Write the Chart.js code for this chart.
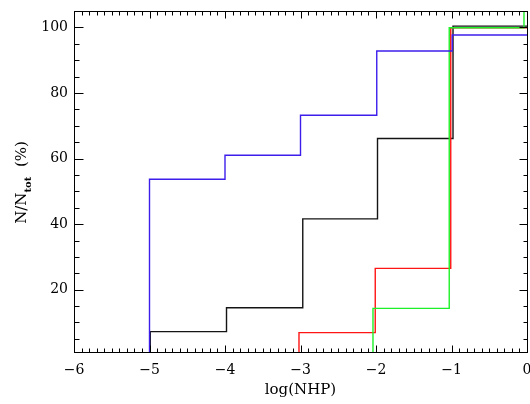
<!DOCTYPE html>
<html><head><meta charset="utf-8">
<script src="https://cdn.jsdelivr.net/npm/chart.js@4/dist/chart.umd.min.js"></script>
<style>html,body{margin:0;padding:0;background:#fff}canvas{display:block}</style>
</head><body>
<canvas id="c" width="530" height="404"></canvas>
<script>
// axis ranges and ticks
const xMin = -6, xMax = 0, yMin = 1, yMax = 105;
const xTickValues = [-6, -5, -4, -3, -2, -1, 0];
const xTickLabels = ['\u22126', '\u22125', '\u22124', '\u22123', '\u22122', '\u22121', '0'];
const yTickValues = [20, 40, 60, 80, 100];
const yTickLabels = ['20', '40', '60', '80', '100'];

// cumulative step series: edge positions (log NHP) and level (%) after each edge
const blueEdges  = [-5.00, -4.00, -3.00, -1.99, -0.99];
const blueLevels = [53.7, 61.0, 73.2, 92.8, 97.7];
const blackEdges  = [-4.99, -3.98, -2.97, -1.98, -0.98];
const blackLevels = [7.2, 14.5, 41.6, 66.1, 100.4];
const redEdges  = [-3.02, -2.01, -1.01];
const redLevels = [6.9, 26.5, 99.9];
const greenEdges  = [-2.04, -1.03, -0.04];
const greenLevels = [14.3, 99.9, 105];

const FONT = 'DejaVu Serif';

function stepPoints(edges, levels, extend) {
  const pts = [{x: edges[0], y: yMin}];
  edges.forEach((e, i) => pts.push({x: e, y: levels[i]}));
  if (extend) pts.push({x: xMax, y: levels[levels.length - 1]});
  return pts;
}

function ds(data, color) {
  return {data, borderColor: color, borderWidth: 1.4, pointRadius: 0,
          stepped: true, fill: false, tension: 0};
}

const framePlugin = {
  id: 'frame',
  afterDatasetsDraw(chart) {
    const ctx = chart.ctx, a = chart.chartArea;
    const xs = chart.scales.x, ys = chart.scales.y;
    const L = Math.floor(a.left) + 0.5, R = Math.floor(a.right) + 0.5;
    const T = Math.floor(a.top) + 0.5, B = Math.floor(a.bottom) + 0.5;
    ctx.save();
    ctx.strokeStyle = '#000';
    ctx.lineWidth = 1;
    ctx.strokeRect(L, T, R - L, B - T);
    ctx.beginPath();
    // x ticks (bottom and top, inward)
    for (let i = xMin * 10; i <= xMax * 10; i++) {
      const v = i / 10;
      const major = i % 10 === 0;
      const len = major ? 7 : 4;
      const px = Math.round(xs.getPixelForValue(v)) + 0.5;
      ctx.moveTo(px, B); ctx.lineTo(px, B - len);
      ctx.moveTo(px, T); ctx.lineTo(px, T + len);
    }
    // y ticks (left and right, inward)
    for (let v = 5; v < yMax; v += 5) {
      const major = v % 20 === 0;
      const py = Math.round(ys.getPixelForValue(v)) + 0.5;
      ctx.moveTo(L, py); ctx.lineTo(L + (major ? 9 : 5), py);
      ctx.moveTo(R, py); ctx.lineTo(R - (major ? 8 : 4), py);
    }
    ctx.stroke();

    // x title
    ctx.fillStyle = '#000';
    ctx.font = '15px "' + FONT + '"';
    ctx.textAlign = 'center';
    ctx.textBaseline = 'alphabetic';
    ctx.fillText('log(NHP)', (a.left + a.right) / 2, a.bottom + 42);

    // y title with subscript
    const parts = [
      {t: 'N/N', f: '15px "' + FONT + '"', dy: 0},
      {t: 'tot', f: 'bold 10px "' + FONT + '"', dy: 5},
      {t: '  (%)', f: '15px "' + FONT + '"', dy: 0}
    ];
    let total = 0;
    parts.forEach(p => { ctx.font = p.f; p.w = ctx.measureText(p.t).width; total += p.w; });
    ctx.translate(26, (a.top + a.bottom) / 2 + 1);
    ctx.rotate(-Math.PI / 2);
    ctx.textAlign = 'left';
    let x = -total / 2;
    parts.forEach(p => { ctx.font = p.f; ctx.fillText(p.t, x, p.dy); x += p.w; });
    ctx.restore();
  }
};

new Chart(document.getElementById('c'), {
  type: 'line',
  data: {
    datasets: [
      ds(stepPoints(blueEdges, blueLevels, true), 'rgb(60,30,235)'),
      ds(stepPoints(greenEdges, greenLevels, false), 'rgb(30,240,40)'),
      ds(stepPoints(redEdges, redLevels, true), 'rgb(255,20,20)'),
      ds(stepPoints(blackEdges, blackLevels, true), 'rgb(20,20,20)')
    ]
  },
  options: {
    responsive: false,
    animation: false,
    events: [],
    layout: {padding: {left: 0, top: 11, right: 3, bottom: 0}},
    plugins: {legend: {display: false}, tooltip: {enabled: false}},
    scales: {
      x: {
        type: 'linear', position: 'bottom', min: xMin, max: xMax,
        grid: {display: false, drawTicks: false}, border: {display: false},
        ticks: {
          color: '#000', font: {family: FONT, size: 14}, padding: 10,
          maxRotation: 0, autoSkip: false,
          callback: (v) => { const i = xTickValues.indexOf(v); return i >= 0 ? xTickLabels[i] : ''; }
        },
        afterBuildTicks: (s) => { s.ticks = xTickValues.map(v => ({value: v})); },
        afterFit: (s) => { s.height = 52; s.paddingLeft = 0; s.paddingRight = 0; }
      },
      y: {
        type: 'linear', position: 'left', min: yMin, max: yMax,
        grid: {display: false, drawTicks: false}, border: {display: false},
        ticks: {
          color: '#000', font: {family: FONT, size: 14}, padding: 6,
          autoSkip: false,
          callback: (v) => { const i = yTickValues.indexOf(v); return i >= 0 ? yTickLabels[i] : ''; }
        },
        afterBuildTicks: (s) => { s.ticks = yTickValues.map(v => ({value: v})); },
        afterFit: (s) => { s.width = 74; s.paddingTop = 0; s.paddingBottom = 0; }
      }
    }
  },
  plugins: [framePlugin]
});
</script>
</body></html>
